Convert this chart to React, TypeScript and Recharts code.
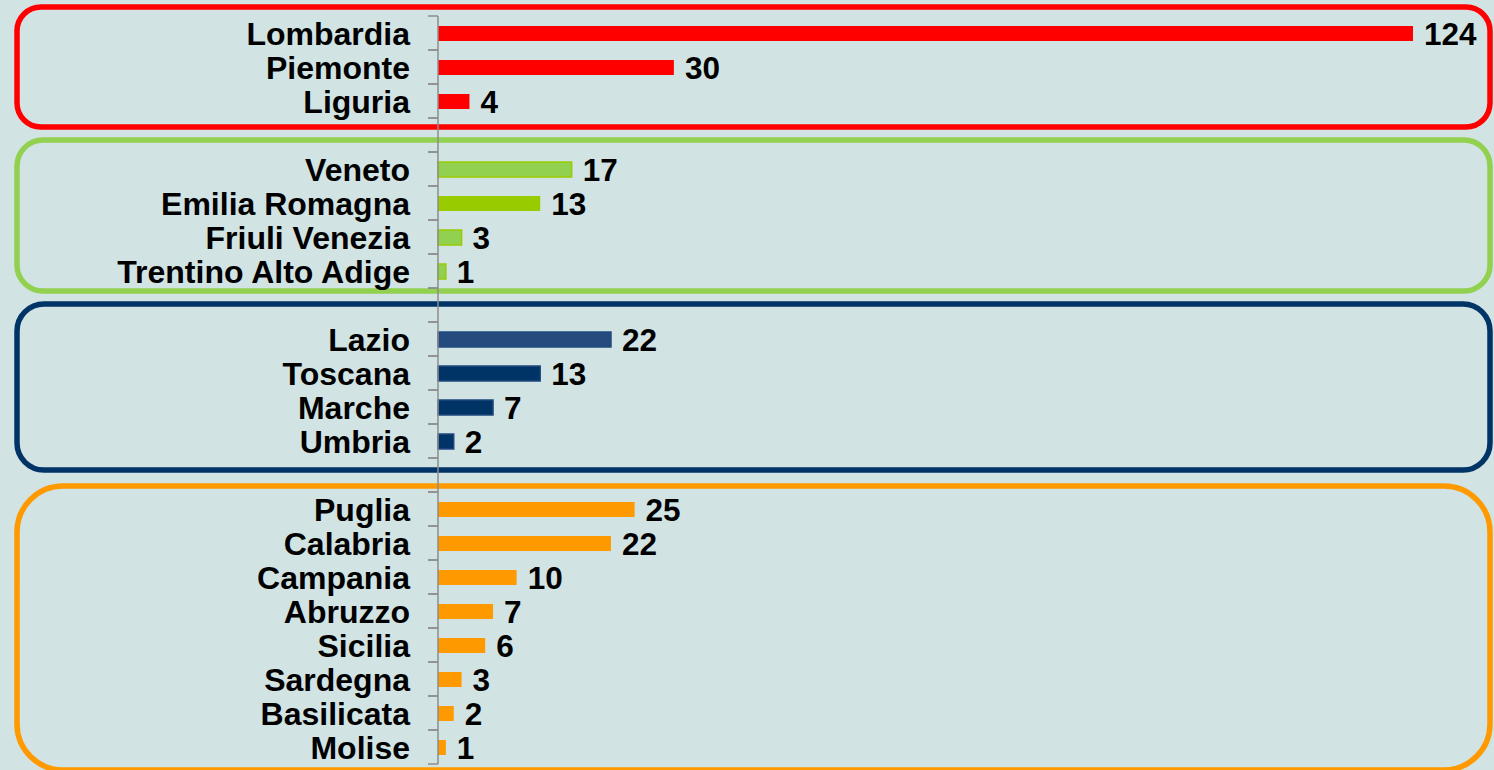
import { BarChart, Bar, XAxis, YAxis, Cell, LabelList, ReferenceArea } from "recharts";

const northWestRegions = ["Lombardia", "Piemonte", "Liguria"];
const northWestCounts = [124, 30, 4];

const northEastRegions = ["Veneto", "Emilia Romagna", "Friuli Venezia", "Trentino Alto Adige"];
const northEastCounts = [17, 13, 3, 1];

const centreRegions = ["Lazio", "Toscana", "Marche", "Umbria"];
const centreCounts = [22, 13, 7, 2];

const southRegions = ["Puglia", "Calabria", "Campania", "Abruzzo", "Sicilia", "Sardegna", "Basilicata", "Molise"];
const southCounts = [25, 22, 10, 7, 6, 3, 2, 1];

const WIDTH = 1494;
const HEIGHT = 770;
const MARGIN = { top: 16, right: 81, bottom: 6, left: 0 };
const AXIS_WIDTH = 438;
const FONT = "'Liberation Sans', Arial, sans-serif";

// frame colour, bar fills and a little hand-tuned padding for the rounded boxes
const groups = [
  {
    regions: northWestRegions,
    counts: northWestCounts,
    fills: ["#ff0000", "#ff0000", "#ff0000"],
    stroke: "#ff0000",
    frame: "#ff0000",
    padTop: 9,
    padBottom: 9,
    radius: 24,
  },
  {
    regions: northEastRegions,
    counts: northEastCounts,
    fills: ["#92d050", "#99cc00", "#92d050", "#92d050"],
    stroke: "#99cc00",
    frame: "#92d050",
    padTop: 12,
    padBottom: 3,
    radius: 26,
  },
  {
    regions: centreRegions,
    counts: centreCounts,
    fills: ["#254b7e", "#003366", "#003366", "#003366"],
    stroke: "#1f497d",
    frame: "#003366",
    padTop: 18,
    padBottom: 12,
    radius: 27,
  },
  {
    regions: southRegions,
    counts: southCounts,
    fills: southRegions.map(() => "#ff9900"),
    stroke: "#ff9900",
    frame: "#ff9900",
    padTop: 6,
    padBottom: 6,
    radius: 46,
  },
];

type Row = { name: string; value: number | null; fill: string; stroke: string };

const rows: Row[] = [];
groups.forEach((g, gi) => {
  if (gi > 0) rows.push({ name: `__gap${gi}`, value: null, fill: "none", stroke: "none" });
  g.regions.forEach((r, i) => {
    rows.push({ name: r, value: g.counts[i], fill: g.fills[i], stroke: g.stroke });
  });
});

const BAND = (HEIGHT - MARGIN.top - MARGIN.bottom) / rows.length;

function RegionTick(props: any) {
  const { x, y, payload } = props;
  const label = String(payload.value).startsWith("__gap") ? "" : payload.value;
  const axisX = x + 28;
  return (
    <g>
      <line x1={axisX - 10} x2={axisX} y1={y - BAND / 2} y2={y - BAND / 2} stroke="#8c8c8c" strokeWidth={1.5} />
      <line x1={axisX - 10} x2={axisX} y1={y + BAND / 2} y2={y + BAND / 2} stroke="#8c8c8c" strokeWidth={1.5} />
      <text x={x} y={y} dy="0.36em" textAnchor="end" fontSize={32} fontWeight="bold" fontFamily={FONT} fill="#000">
        {label}
      </text>
    </g>
  );
}

function frameShape(g: (typeof groups)[number]) {
  return (p: any) => (
    <rect
      x={17}
      y={p.y - g.padTop}
      width={p.x + p.width + 77 - 17}
      height={p.height + g.padTop + g.padBottom}
      rx={g.radius}
      ry={g.radius}
      fill="none"
      stroke={g.frame}
      strokeWidth={5.5}
    />
  );
}

export default function App() {
  return (
    <div style={{ width: WIDTH, height: HEIGHT, background: "#d2e3e3", overflow: "hidden" }}>
      <style>{"body{margin:0}"}</style>
      <BarChart width={WIDTH} height={HEIGHT} data={rows} layout="vertical" margin={MARGIN}>
        {groups.map((g) => (
          <ReferenceArea
            key={g.regions[0]}
            y1={g.regions[0]}
            y2={g.regions[g.regions.length - 1]}
            ifOverflow="visible"
            shape={frameShape(g)}
          />
        ))}
        <XAxis type="number" domain={[0, "dataMax"]} hide />
        <YAxis
          type="category"
          dataKey="name"
          width={AXIS_WIDTH}
          axisLine={{ stroke: "#8c8c8c", strokeWidth: 1.5 }}
          tickLine={false}
          tickSize={10}
          tickMargin={18}
          interval={0}
          tick={<RegionTick />}
        />
        <Bar dataKey="value" barSize={15} isAnimationActive={false}>
          {rows.map((r) => (
            <Cell key={r.name} fill={r.fill} stroke={r.stroke} strokeWidth={r.fill === r.stroke ? 0 : 1.5} />
          ))}
          <LabelList
            dataKey="value"
            position="right"
            offset={11}
            formatter={(v: any) => (v == null ? "" : v)}
            style={{ fontSize: 31.5, fontWeight: "bold", fontFamily: FONT, fill: "#000" }}
          />
        </Bar>
      </BarChart>
    </div>
  );
}
